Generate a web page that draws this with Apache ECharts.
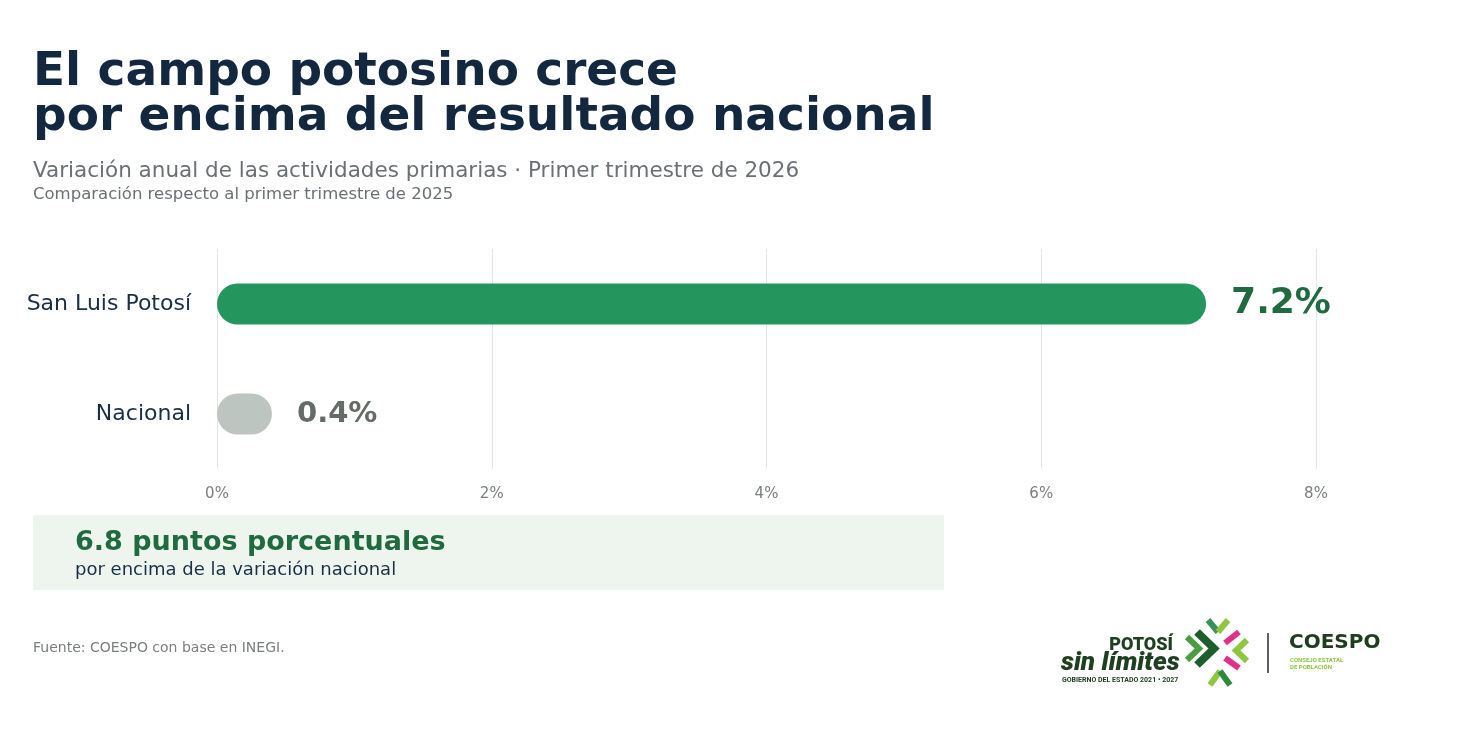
<!DOCTYPE html>
<html>
<head>
<meta charset="utf-8">
<script src="https://cdn.jsdelivr.net/npm/echarts@6/dist/echarts.min.js"></script>
<style>
html,body{margin:0;padding:0;background:#fff;}
#chart{width:1471px;height:730px;}
</style>
</head>
<body>
<div id="chart"></div>
<script>
const categories = ['San Luis Potosí', 'Nacional'];
const values = [7.2, 0.4];
const barColors = ['#24965d', '#bcc5bf'];
const labelColors = ['#1f6b3f', '#646c67'];
const labelSizes = [36, 29];
const xTicks = [0, 2, 4, 6, 8];

const titleLines = ['El campo potosino crece', 'por encima del resultado nacional'];
const subtitle = 'Variación anual de las actividades primarias · Primer trimestre de 2026';
const subsubtitle = 'Comparación respecto al primer trimestre de 2025';
const calloutMain = '6.8 puntos porcentuales';
const calloutSub = 'por encima de la variación nacional';
const source = 'Fuente: COESPO con base en INEGI.';

const FONT = '"DejaVu Sans", sans-serif';
const chart = echarts.init(document.getElementById('chart'), null, {renderer: 'canvas'});

const barData = values.map((v, i) => ({
  value: v,
  itemStyle: {color: barColors[i], borderRadius: 20.5},
  label: {color: labelColors[i], fontSize: labelSizes[i]}
}));

function txt(x, y, text, font, fill, align) {
  return {type: 'text', x: x, y: y, silent: true,
    style: {text: text, font: font, fill: fill, align: align || 'left', verticalAlign: 'middle'}};
}
function pl(points, color, w) {
  return {type: 'polyline', silent: true, shape: {points: points},
    style: {stroke: color, lineWidth: w, fill: null, lineCap: 'butt', lineJoin: 'miter'}};
}

const option = {
  backgroundColor: '#ffffff',
  animation: false,
  grid: {left: 217, right: 155, top: 249, height: 220, containLabel: false},
  xAxis: {
    type: 'value', min: xTicks[0], max: xTicks[xTicks.length - 1], interval: 2,
    axisLine: {show: false}, axisTick: {show: false},
    splitLine: {show: true, lineStyle: {color: '#e4e6e5', width: 1}},
    axisLabel: {formatter: '{value}%', color: '#7a7f7c', fontSize: 15, fontFamily: FONT, margin: 18}
  },
  yAxis: {
    type: 'category', data: categories, inverse: true,
    axisLine: {show: false}, axisTick: {show: false}, splitLine: {show: false},
    axisLabel: {color: '#1a2e45', fontSize: 22, fontFamily: FONT, margin: 26, padding: [4, 0, 0, 0]}
  },
  series: [{
    type: 'bar', data: barData, barWidth: 41,
    label: {show: true, position: 'right', distance: 25, fontFamily: FONT, fontWeight: 'bold',
      formatter: p => p.value.toFixed(1) + '%'}
  }],
  graphic: [
    txt(33, 73, titleLines[0], 'bold 47px ' + FONT, '#13283f'),
    txt(33, 118, titleLines[1], 'bold 47px ' + FONT, '#13283f'),
    txt(33, 171, subtitle, '21.5px ' + FONT, '#6b7075'),
    txt(33, 195, subsubtitle, '16.5px ' + FONT, '#6b7075'),
    {type: 'rect', silent: true, shape: {x: 33, y: 515, width: 911, height: 75}, style: {fill: '#eef5ef'}},
    txt(75, 543, calloutMain, 'bold 27px ' + FONT, '#1f6b3f'),
    txt(75, 570, calloutSub, '18px ' + FONT, '#1a2e45'),
    txt(33, 648, source, '14px ' + FONT, '#7a7f7c'),
    // logo: Potosí sin límites
    txt(1173, 645, 'POTOSÍ', '900 18px Roboto, ' + FONT, '#1e4020', 'right'),
    txt(1061, 663, 'sin límites', 'italic 900 26px Roboto, ' + FONT, '#1e4020'),
    txt(1062, 680, 'GOBIERNO DEL ESTADO 2021 • 2027', 'bold 7px Roboto, ' + FONT, '#1e4020'),
    // emblem
    pl([[1208, 620], [1218, 632]], '#3a8f5c', 6),
    pl([[1218, 632], [1228, 620]], '#8dc63f', 6),
    pl([[1187, 637], [1199, 648.5], [1187, 660]], '#4a9e3f', 6),
    pl([[1197, 632], [1214, 648.5], [1197, 665]], '#1e5e2e', 8),
    pl([[1247, 640], [1236, 650.5], [1247, 661]], '#8dc63f', 6),
    pl([[1225, 643], [1239, 632]], '#e0318a', 6),
    pl([[1225, 658], [1239, 668]], '#e0318a', 6),
    pl([[1210, 685], [1220, 671]], '#8dc63f', 6),
    pl([[1220, 671], [1230, 685]], '#2e8b3e', 6),
    {type: 'line', silent: true, shape: {x1: 1268, y1: 633, x2: 1268, y2: 673}, style: {stroke: '#2a2a2a', lineWidth: 1.5}},
    txt(1289, 643, 'COESPO', 'bold 20px ' + FONT, '#1e3d1e'),
    txt(1290, 660, 'CONSEJO ESTATAL', 'bold 6px Roboto, ' + FONT, '#8dc63f'),
    txt(1290, 667, 'DE POBLACIÓN', 'bold 6px Roboto, ' + FONT, '#8dc63f')
  ]
};
chart.setOption(option);
</script>
</body>
</html>
